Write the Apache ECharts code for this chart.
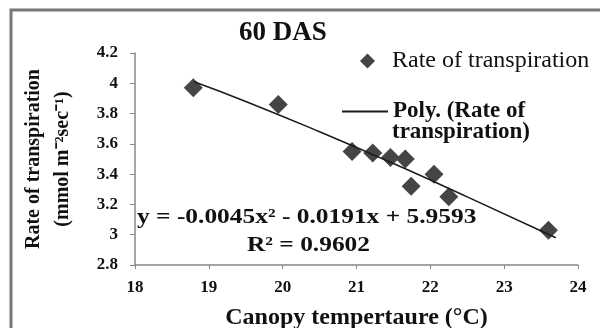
<!DOCTYPE html>
<html lang="en">
<head>
   <meta charset="UTF-8">
   <script type="text/javascript" src="https://cdnjs.cloudflare.com/ajax/libs/echarts/6.0.0/echarts.min.js"></script>
   <title>60 DAS</title>
   <style>
      html, body { margin: 0; padding: 0; background: #fff; }
      #container { width: 600px; height: 328px; }
   </style>
</head>
<body>
   <div id="container"></div>
   <script>
      // scatter points (canopy temperature, rate of transpiration)
      var tempX = [18.79, 19.94, 20.94, 21.22, 21.46, 21.66, 22.05, 21.74, 22.25, 23.6];
      var rateY = [3.97, 3.86, 3.55, 3.54, 3.51, 3.50, 3.40, 3.32, 3.25, 3.03];

      // polynomial trend line
      var trendX = [18.8, 19.5, 20.5, 21.5, 22.5, 23.7];
      var trendY = [4.01, 3.88, 3.68, 3.47, 3.25, 2.98];

      var xTicks = { min: 18, max: 24, step: 1 };
      var yTicks = { min: 2.8, max: 4.2, step: 0.2 };

      var serif = '"Liberation Serif", "Times New Roman", serif';

      var scatterData = tempX.map(function (x, i) { return [x, rateY[i]]; });
      var trendData = trendX.map(function (x, i) { return [x, trendY[i]]; });

      var chartDom = document.getElementById('container');
      var myChart = echarts.init(chartDom);

      var option = {
         animation: false,
         backgroundColor: '#fff',
         title: {
            text: '60 DAS',
            left: 234,
            top: 15,
            textStyle: { fontFamily: serif, fontSize: 27, fontWeight: 'bold', color: '#111' }
         },
         grid: { left: 135, right: 22, top: 53, bottom: 63, outerBoundsMode: 'none' },
         legend: [
            {
               data: ['Rate of transpiration'],
               left: 355,
               top: 44,
               icon: 'diamond',
               itemWidth: 15,
               itemHeight: 15,
               textStyle: { fontFamily: serif, fontSize: 24, color: '#111', padding: [0, 0, 0, 12] }
            },
            {
               data: ['Poly. (Rate of transpiration)'],
               left: 337,
               top: 95,
               icon: 'rect',
               itemWidth: 46,
               itemHeight: 2,
               formatter: function () { return 'Poly. (Rate of'; },
               textStyle: { fontFamily: serif, fontSize: 23, fontWeight: 'bold', color: '#111', padding: [0, 0, 0, 0] }
            }
         ],
         xAxis: {
            type: 'value',
            min: xTicks.min,
            max: xTicks.max,
            interval: xTicks.step,
            name: 'Canopy tempertaure (°C)',
            nameLocation: 'middle',
            nameGap: 41,
            nameTextStyle: { fontFamily: serif, fontSize: 24, fontWeight: 'bold', color: '#111' },
            axisLine: { lineStyle: { color: '#888', width: 1.5 } },
            axisTick: { show: true, length: 4, lineStyle: { color: '#888' } },
            axisLabel: { margin: 14, fontFamily: serif, fontSize: 17, fontWeight: 'bold', color: '#111' },
            splitLine: { show: false }
         },
         yAxis: {
            type: 'value',
            min: yTicks.min,
            max: yTicks.max,
            interval: yTicks.step,
            name: 'Rate of transpiration\n(mmol m⁻²sec⁻¹)',
            nameLocation: 'middle',
            nameRotate: 90,
            nameGap: 58,
            nameTextStyle: { fontFamily: serif, fontSize: 20, fontWeight: 'bold', color: '#111', lineHeight: 29 },
            axisLine: { show: true, lineStyle: { color: '#888', width: 1.5 } },
            axisTick: { show: true, length: 5, lineStyle: { color: '#888' } },
            axisLabel: {
               margin: 17, fontFamily: serif, fontSize: 17, fontWeight: 'bold', color: '#111',
               formatter: function (v) { return String(Math.round(v * 10) / 10); }
            },
            splitLine: { show: false }
         },
         series: [
            {
               name: 'Poly. (Rate of transpiration)',
               type: 'line',
               data: trendData,
               smooth: true,
               symbol: 'none',
               lineStyle: { color: '#1a1a1a', width: 1.5 },
               itemStyle: { color: '#1a1a1a' },
               z: 3
            },
            {
               name: 'Rate of transpiration',
               type: 'scatter',
               data: scatterData,
               symbol: 'diamond',
               symbolSize: 19,
               itemStyle: { color: '#454545', opacity: 1 },
               z: 2
            }
         ],
         graphic: [
            {
               type: 'rect',
               shape: { x: 11, y: 10, width: 600, height: 330 },
               style: { fill: 'none', stroke: '#777', lineWidth: 3 },
               silent: true
            },
            {
               type: 'text',
               x: 392,
               y: 132,
               style: { text: 'transpiration)', font: 'bold 23px ' + serif, fill: '#111', verticalAlign: 'middle' }
            },
            {
               type: 'text',
               x: 137,
               y: 218,
               scaleX: 1.21,
               style: { text: 'y = -0.0045x² - 0.0191x + 5.9593', font: 'bold 21px ' + serif, fill: '#111', verticalAlign: 'middle' }
            },
            {
               type: 'text',
               x: 247,
               y: 246,
               scaleX: 1.21,
               style: { text: 'R² = 0.9602', font: 'bold 21px ' + serif, fill: '#111', verticalAlign: 'middle' }
            }
         ]
      };

      option && myChart.setOption(option);
   </script>
</body>
</html>
